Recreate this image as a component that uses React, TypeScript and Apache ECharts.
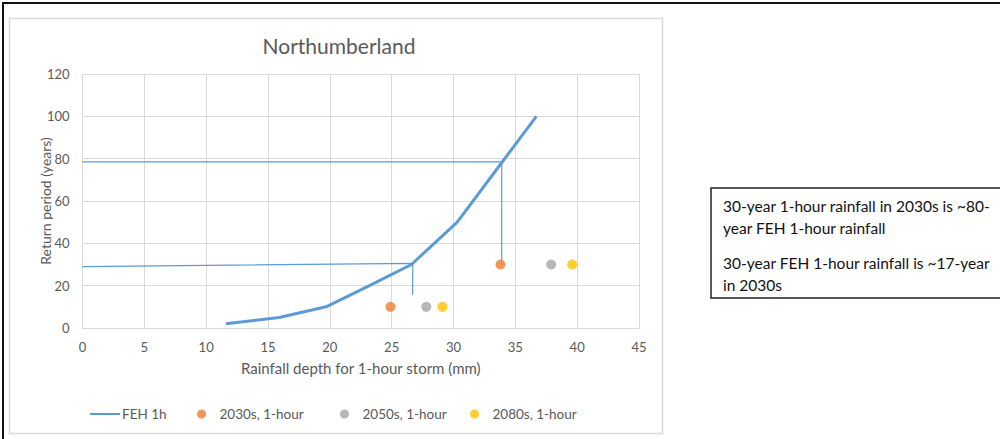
import React, { useEffect, useRef } from "react";
import * as echarts from "echarts";

const fehDepth = [11.6, 15.9, 19.7, 23.2, 26.6, 30.3, 33.5, 36.7];
const fehPeriod = [2, 5, 10, 20, 30, 50, 75, 100];

const depth2030 = [24.9, 33.8];
const depth2050 = [27.8, 37.9];
const depth2080 = [29.1, 39.6];
const futurePeriod = [10, 30];

const guide80 = [[0, 78.5], [33.9, 78.5], [33.9, 30]];
const guide30 = [[0, 29], [26.7, 30.5], [26.7, 15.7]];

const noteLines = [
  "30-year 1-hour rainfall in 2030s is ~80-",
  "year FEH 1-hour rainfall",
  "30-year FEH 1-hour rainfall is ~17-year",
  "in 2030s",
];

const FONT = "Lato";
const GREY_TEXT = "#595959";

export default function App() {
  const ref = useRef<HTMLDivElement>(null);
  useEffect(() => {
    if (!ref.current) return;
    const chart = echarts.init(ref.current, undefined, { renderer: "svg" });
    const zip = (xs: number[], ys: number[]) => xs.map((x, i) => [x, ys[i]]);
    const noteY = [206, 228, 263, 285];
    chart.setOption({
      animation: false,
      backgroundColor: "#fff",
      textStyle: { fontFamily: FONT },
      title: {
        text: "Northumberland",
        left: 334,
        top: 30,
        textAlign: "center",
        textStyle: { fontFamily: FONT, fontSize: 21, fontWeight: "normal", color: GREY_TEXT },
      },
      grid: { left: 82.5, right: 361, top: 74, bottom: 111 },
      xAxis: {
        type: "value",
        min: 0,
        max: 45,
        interval: 5,
        name: "Rainfall depth for 1-hour storm (mm)",
        nameLocation: "middle",
        nameGap: 32,
        nameMoveOverlap: false,
        nameTextStyle: { fontFamily: FONT, fontSize: 15, color: GREY_TEXT },
        axisLine: { show: true, lineStyle: { color: "#D9D9D9" } },
        axisTick: { show: false },
        axisLabel: { color: GREY_TEXT, fontSize: 13, fontFamily: FONT, margin: 12 },
        splitLine: { show: true, lineStyle: { color: "#D9D9D9", width: 1 } },
      },
      yAxis: {
        type: "value",
        min: 0,
        max: 120,
        interval: 20,
        name: "Return period (years)",
        nameLocation: "middle",
        nameGap: 30,
        nameMoveOverlap: false,
        nameTextStyle: { fontFamily: FONT, fontSize: 14, color: GREY_TEXT },
        axisLine: { show: false },
        axisTick: { show: false },
        axisLabel: { color: GREY_TEXT, fontSize: 13, fontFamily: FONT, margin: 13 },
        splitLine: { show: true, lineStyle: { color: "#D9D9D9", width: 1 } },
      },
      legend: [
        { name: "FEH 1h", left: 84, pad: -3 },
        { name: "2030s, 1-hour", left: 192, pad: -2 },
        { name: "2050s, 1-hour", left: 335, pad: -2 },
        { name: "2080s, 1-hour", left: 465, pad: -2 },
      ].map((l) => ({
        data: [l.name],
        left: l.left,
        top: 402,
        itemWidth: 30,
        itemHeight: l.name === "FEH 1h" ? 3 : 9,
        itemGap: 0,
        textStyle: { fontFamily: FONT, fontSize: 13.5, color: GREY_TEXT, padding: [0, 0, 0, l.pad] },
        selectedMode: false,
      })),
      series: [
        {
          name: "guide80",
          type: "line",
          data: guide80,
          symbol: "none",
          lineStyle: { color: "#5B9BD5", width: 1.2 },
          z: 1,
          silent: true,
        },
        {
          name: "guide30",
          type: "line",
          data: guide30,
          symbol: "none",
          lineStyle: { color: "#5B9BD5", width: 1.2 },
          z: 1,
          silent: true,
        },
        {
          name: "FEH 1h",
          type: "line",
          data: zip(fehDepth, fehPeriod),
          symbol: "none",
          lineStyle: { color: "#5B9BD5", width: 3 },
          itemStyle: { color: "#5B9BD5" },
          z: 3,
        },
        {
          name: "2030s, 1-hour",
          type: "scatter",
          data: zip(depth2030, futurePeriod),
          symbol: "circle",
          symbolSize: 10,
          itemStyle: { color: "#ED7D31" },
          z: 4,
        },
        {
          name: "2050s, 1-hour",
          type: "scatter",
          data: zip(depth2050, futurePeriod),
          symbol: "circle",
          symbolSize: 10,
          itemStyle: { color: "#A5A5A5" },
          z: 4,
        },
        {
          name: "2080s, 1-hour",
          type: "scatter",
          data: zip(depth2080, futurePeriod),
          symbol: "circle",
          symbolSize: 10,
          itemStyle: { color: "#FFC000" },
          z: 4,
        },
      ],
      graphic: [
        {
          type: "rect",
          shape: { x: 3, y: 3, width: 1010, height: 450 },
          style: { fill: "none", stroke: "#111", lineWidth: 2 },
          silent: true,
          z: 10,
        },
        {
          type: "rect",
          shape: { x: 9.5, y: 18.5, width: 653, height: 415 },
          style: { fill: "none", stroke: "#D9D9D9", lineWidth: 1.5 },
          silent: true,
          z: 10,
        },
        {
          type: "rect",
          shape: { x: 711, y: 188, width: 320, height: 110 },
          style: { fill: "#fff", stroke: "#222", lineWidth: 1.5 },
          silent: true,
          z: 10,
        },
        ...noteLines.map((t, i) => ({
          type: "text",
          x: 723,
          y: noteY[i],
          silent: true,
          z: 11,
          style: {
            text: t,
            fill: "#111",
            font: `15.5px ${FONT}`,
            textVerticalAlign: "middle",
            verticalAlign: "middle",
          },
        })),
      ],
    });
    return () => chart.dispose();
  }, []);
  return (
    <div
      ref={ref}
      style={{ position: "fixed", left: 0, top: 0, width: 1000, height: 439 }}
    />
  );
}
